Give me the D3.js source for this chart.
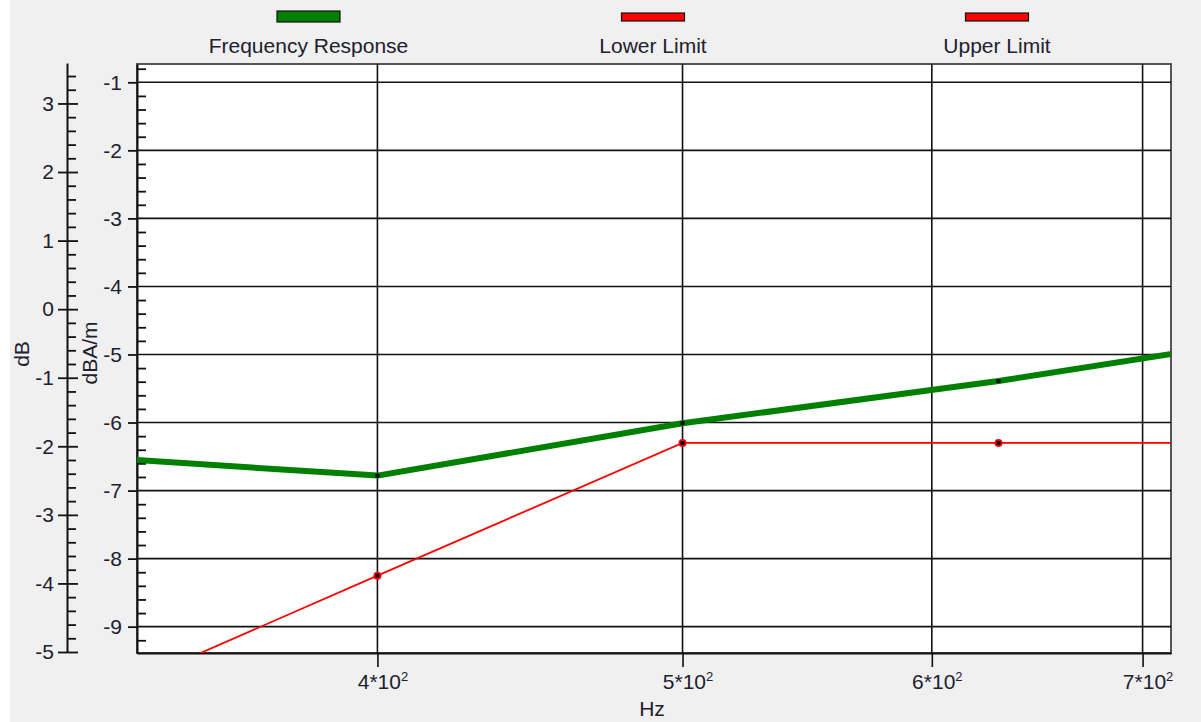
<!DOCTYPE html>
<html>
<head>
<meta charset="utf-8">
<script src="https://cdn.jsdelivr.net/npm/d3@7"></script>
<style>
  html, body { margin: 0; padding: 0; background: #f0f0f0; }
  svg { display: block; font-family: "Liberation Sans", Arial, sans-serif; }
  text { fill: #20202e; }
</style>
</head>
<body>
<svg id="chart" width="1201" height="722"></svg>
<script>
// ---- data ----
const frequencies = [315, 400, 500, 630, 800];
const frequencyResponse = [-6.47, -6.78, -6.01, -5.39, -4.64];
const lowerLimit = [-10.35, -8.25, -6.30, -6.30, -6.30];
const upperLimit = []; // not visible within the plotted range
const seriesNames = ["Frequency Response", "Lower Limit", "Upper Limit"];
const xTickValues = [400, 500, 600, 700];
const xTickMantissas = ["4", "5", "6", "7"];
const xTickExponent = "2";
const dbMajorTicks = [-5, -4, -3, -2, -1, 0, 1, 2, 3];
const dbaMajorTicks = [-9, -8, -7, -6, -5, -4, -3, -2, -1];

// ---- layout ----
const W = 1201, H = 722;
const plot = { left: 137, right: 1171, top: 64, bottom: 653 };
const svg = d3.select("#chart");
const fmt = d => String(d); // plain hyphen-minus as in the reference

svg.append("rect").attr("x", 0).attr("y", 0).attr("width", W).attr("height", H).attr("fill", "#f0f0f0");
svg.append("rect").attr("x", 0).attr("y", 0).attr("width", 10).attr("height", H).attr("fill", "#ffffff");

const x = d3.scaleLog().domain([335.5, 714.7]).range([plot.left, plot.right]);
const yR = d3.scaleLinear().domain([-9.387, -0.731]).range([plot.bottom, plot.top]);
const yL = d3.scaleLinear().domain([-5, 3.59]).range([652, 63]);

function minorTicks(lo, hi, step) {
  const out = [];
  const n = Math.round((hi - lo) / step);
  for (let i = 0; i <= n; i++) {
    const v = +(lo + i * step).toFixed(4);
    if (Math.abs(v - Math.round(v)) > 1e-6) out.push(v);
  }
  return out;
}

// plot background
svg.append("rect")
  .attr("x", plot.left).attr("y", plot.top)
  .attr("width", plot.right - plot.left).attr("height", plot.bottom - plot.top)
  .attr("fill", "#ffffff").attr("stroke", "#555").attr("stroke-width", 2);

// horizontal grid
svg.append("g").selectAll("line").data(dbaMajorTicks).join("line")
  .attr("x1", plot.left).attr("x2", plot.right)
  .attr("y1", d => yR(d)).attr("y2", d => yR(d))
  .attr("stroke", "#111").attr("stroke-width", 1.6);

// vertical grid
svg.append("g").selectAll("line").data(xTickValues).join("line")
  .attr("x1", d => x(d)).attr("x2", d => x(d))
  .attr("y1", plot.top).attr("y2", plot.bottom)
  .attr("stroke", "#111").attr("stroke-width", 1.6);

// bottom axis
const gx = svg.append("g").attr("transform", `translate(0,${plot.bottom})`)
  .call(d3.axisBottom(x).tickValues(xTickValues).tickSize(14).tickSizeOuter(0).tickPadding(7).tickFormat(() => ""));
gx.select(".domain").attr("stroke", "#111").attr("stroke-width", 2);
gx.selectAll(".tick line").attr("stroke", "#111").attr("stroke-width", 1.6);
gx.selectAll(".tick text").attr("font-size", 21).attr("fill", "#20202e").attr("dx", 5)
  .attr("font-family", "Liberation Sans, Arial, sans-serif")
  .each(function(d, i) {
    const t = d3.select(this);
    t.append("tspan").text(xTickMantissas[i] + "*10");
    t.append("tspan").attr("font-size", 13).attr("dy", -8).text(xTickExponent);
  });

// ---- left dB axis ----
const leftAxisX = 67;
const gl1 = svg.append("g").attr("transform", `translate(${leftAxisX},0)`)
  .call(d3.axisRight(yL).tickValues(minorTicks(-5, 3.6, 0.2).filter(v => v <= 3.59)).tickSize(9).tickSizeOuter(0).tickFormat(""));
gl1.select(".domain").remove();
const gl2 = svg.append("g").attr("transform", `translate(${leftAxisX},0)`)
  .call(d3.axisRight(yL).tickValues(dbMajorTicks).tickSize(11).tickSizeOuter(0).tickFormat(""));
gl2.select(".domain").remove();
const gl3 = svg.append("g").attr("transform", `translate(${leftAxisX},0)`)
  .call(d3.axisLeft(yL).tickValues(dbMajorTicks).tickSize(9).tickSizeOuter(0).tickPadding(4).tickFormat(fmt));
[gl1, gl2, gl3].forEach(g => g.selectAll(".tick line").attr("stroke", "#111").attr("stroke-width", 1.8));
gl3.select(".domain").attr("stroke", "#111").attr("stroke-width", 2);
gl3.selectAll(".tick text").attr("font-size", 21).attr("fill", "#20202e").attr("font-family", "Liberation Sans, Arial, sans-serif");

// ---- inner dBA/m axis ----
const gr1 = svg.append("g").attr("transform", `translate(${plot.left},0)`)
  .call(d3.axisRight(yR).tickValues(minorTicks(-9.4, -0.6, 0.2).filter(v => v >= -9.387 && v <= -0.731)).tickSize(9).tickSizeOuter(0).tickFormat(""));
gr1.select(".domain").remove();
const gr2 = svg.append("g").attr("transform", `translate(${plot.left},0)`)
  .call(d3.axisLeft(yR).tickValues(dbaMajorTicks).tickSize(9).tickSizeOuter(0).tickPadding(6).tickFormat(fmt));
[gr1, gr2].forEach(g => g.selectAll(".tick line").attr("stroke", "#111").attr("stroke-width", 1.8));
gr2.select(".domain").attr("stroke", "#111").attr("stroke-width", 2);
gr2.selectAll(".tick text").attr("font-size", 21).attr("fill", "#20202e").attr("font-family", "Liberation Sans, Arial, sans-serif");

// axis titles
svg.append("text").attr("transform", "translate(29,354) rotate(-90)")
  .attr("text-anchor", "middle").attr("font-size", 21).text("dB");
svg.append("text").attr("transform", "translate(97,353) rotate(-90)")
  .attr("text-anchor", "middle").attr("font-size", 21).text("dBA/m");
svg.append("text").attr("x", 652).attr("y", 716)
  .attr("text-anchor", "middle").attr("font-size", 21).text("Hz");

// ---- series ----
svg.append("clipPath").attr("id", "plotClip").append("rect")
  .attr("x", plot.left).attr("y", plot.top)
  .attr("width", plot.right - plot.left).attr("height", plot.bottom - plot.top);
const layer = svg.append("g").attr("clip-path", "url(#plotClip)");

const line = d3.line().x(d => x(d[0])).y(d => yR(d[1]));
const respPts = frequencies.map((f, i) => [f, frequencyResponse[i]]);
const lowPts = frequencies.map((f, i) => [f, lowerLimit[i]]);
const upPts = upperLimit.map((v, i) => [frequencies[i], v]);

layer.append("path").datum(lowPts).attr("d", line)
  .attr("fill", "none").attr("stroke", "#ff0000").attr("stroke-width", 1.8);
layer.append("path").datum(upPts).attr("d", line)
  .attr("fill", "none").attr("stroke", "#ff0000").attr("stroke-width", 1.8);
layer.append("path").datum(respPts).attr("d", line)
  .attr("fill", "none").attr("stroke", "#008000").attr("stroke-width", 6)
  .attr("stroke-linejoin", "bevel");

// markers
const inDomain = d => d[0] >= x.domain()[0] && d[0] <= x.domain()[1];
layer.selectAll(".lowMk").data(lowPts.filter(inDomain)).join("circle")
  .attr("cx", d => x(d[0])).attr("cy", d => yR(d[1])).attr("r", 4).attr("fill", "#ff0000");
layer.selectAll(".lowMkC").data(lowPts.filter(inDomain)).join("rect")
  .attr("x", d => x(d[0]) - 2).attr("y", d => yR(d[1]) - 2).attr("width", 4).attr("height", 4).attr("fill", "#000");
layer.selectAll(".respMk").data(respPts.filter(inDomain)).join("rect")
  .attr("x", d => x(d[0]) - 2).attr("y", d => yR(d[1]) - 2).attr("width", 4).attr("height", 4).attr("fill", "#000");

// ---- legend ----
const legendItems = [
  { name: seriesNames[0], color: "#008000", cx: 308.5, y: 11, h: 11 },
  { name: seriesNames[1], color: "#ff0000", cx: 653, y: 13, h: 8 },
  { name: seriesNames[2], color: "#ff0000", cx: 997, y: 13, h: 8 }
];
const lg = svg.append("g").selectAll("g").data(legendItems).join("g");
lg.append("rect").attr("x", d => d.cx - 31.5).attr("y", d => d.y).attr("width", 63).attr("height", d => d.h)
  .attr("fill", d => d.color).attr("stroke", "#111").attr("stroke-width", 1.2);
lg.append("text").attr("x", d => d.cx).attr("y", 53).attr("text-anchor", "middle").attr("font-size", 21).text(d => d.name);
</script>
</body>
</html>
